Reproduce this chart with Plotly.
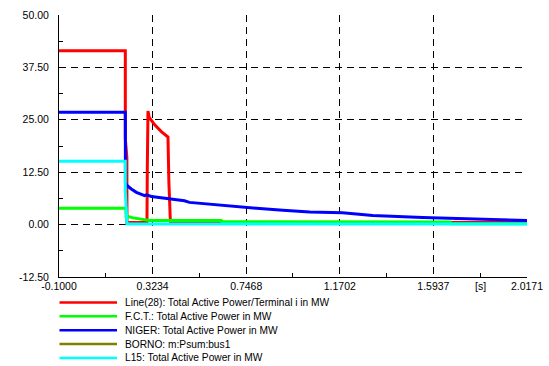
import plotly.graph_objects as go

# ---------------- data ----------------
series_names = [
    "Line(28): Total Active Power/Terminal i in MW",
    "F.C.T.: Total Active Power in MW",
    "NIGER: Total Active Power in MW",
    "BORNO: m:Psum:bus1",
    "L15: Total Active Power in MW",
]
series_colors = ["#ff0000", "#00ff00", "#0000ff", "#808000", "#00ffff"]

line28_t = [-0.1, 0.2, 0.2, 0.207, 0.2075, 0.298, 0.2995, 0.3025, 0.308, 0.333, 0.363, 0.393, 0.397, 0.404, 2.0171]
line28_p = [41.5, 41.5, 20.5, 16.0, 0.5, 0.5, 13.5, 27.1, 25.6, 23.8, 22.2, 20.9, 10.3, 0.5, 0.5]

fct_t = [-0.1, 0.2025, 0.2035, 0.209, 0.235, 0.273, 0.31, 0.634, 0.636, 1.669, 1.671, 2.0171]
fct_p = [3.9, 3.9, 2.0, 2.0, 1.6, 1.35, 1.0, 0.95, 0.7, 0.65, 0.2, 0.2]

niger_t = [-0.1, 0.2, 0.2005, 0.209, 0.227, 0.250, 0.2875, 0.295, 0.318, 0.363, 0.408, 0.4675,
           0.490, 0.589, 0.680, 0.793, 0.913, 1.034, 1.183, 1.319, 1.545, 1.771, 1.880, 2.0171]
niger_p = [26.8, 26.8, 9.9, 9.3, 8.5, 7.7, 6.9, 7.1, 6.7, 6.35, 6.1, 5.7,
           5.3, 4.9, 4.4, 3.9, 3.4, 3.0, 2.8, 2.2, 1.7, 1.36, 1.1, 0.95]

borno_t = [None]
borno_p = [None]

l15_t = [-0.1, 0.2, 0.2, 0.2075, 2.0171]
l15_p = [15.1, 15.1, 7.9, 0.17, 0.17]

x_tick_vals = [-0.1, 0.3234, 0.7468, 1.1702, 1.5937, 2.0171]
x_tick_text = ["-0.1000", "0.3234", "0.7468", "1.1702", "1.5937", "2.0171"]
y_tick_vals = [-12.5, 0.0, 12.5, 25.0, 37.5, 50.0]
y_tick_text = ["-12.50", "0.00", "12.50", "25.00", "37.50", "50.00"]
x_unit = "[s]"

# --------------- figure ---------------
W, H = 549, 366
L, R, T, B = 59, 527, 15, 277

fig = go.Figure()
data = [(line28_t, line28_p), (fct_t, fct_p), (niger_t, niger_p), (borno_t, borno_p), (l15_t, l15_p)]
for (t, p), name, col in zip(data, series_names, series_colors):
    fig.add_trace(go.Scatter(x=t, y=p, mode="lines", name=name,
                             line=dict(color=col, width=3), showlegend=False))

x_minor = [(a + b) / 2 for a, b in zip(x_tick_vals[:-1], x_tick_vals[1:])]
y_minor = [(a + b) / 2 for a, b in zip(y_tick_vals[:-1], y_tick_vals[1:])]

font = dict(family="Liberation Sans, Arial, sans-serif", size=10.2, color="#000000")

fig.update_layout(
    width=W, height=H,
    margin=dict(l=L, r=W - R, t=T, b=H - B, pad=0, autoexpand=False),
    paper_bgcolor="white", plot_bgcolor="white",
    font=font,
    showlegend=False,
    xaxis=dict(range=[x_tick_vals[0], x_tick_vals[-1]], tickvals=x_tick_vals, ticktext=x_tick_text,
               showgrid=True, gridcolor="#000000", gridwidth=1, griddash="7px,5px",
               zeroline=False, showline=True, linecolor="#000000", linewidth=1,
               ticks="", tickfont=dict(size=10.5), automargin=False, ticklabelstandoff=-1,
               minor=dict(tickvals=x_minor, ticks="inside", ticklen=4, tickcolor="#000000", showgrid=False)),
    yaxis=dict(range=[y_tick_vals[0], y_tick_vals[-1]], tickvals=y_tick_vals, ticktext=y_tick_text,
               showgrid=True, gridcolor="#000000", gridwidth=1, griddash="7px,5px",
               zeroline=False, showline=True, linecolor="#000000", linewidth=1,
               ticks="", tickfont=dict(size=10.5), automargin=False, ticklabelstandoff=7,
               minor=dict(tickvals=y_minor, ticks="inside", ticklen=4, tickcolor="#000000", showgrid=False)),
)

def px_x(px):
    return (px - L) / (R - L)

def px_y(py):
    return (B - py) / (B - T)

# unit label
fig.add_annotation(x=x_minor[-1], xref="x", y=px_y(285.5), yref="paper", text=x_unit,
                   showarrow=False, font=dict(size=10.5), xanchor="center", yanchor="middle")

# legend drawn below the plot
for i, (name, col) in enumerate(zip(series_names, series_colors)):
    yy = px_y(302.5 + i * 13.85)
    fig.add_shape(type="line", xref="paper", yref="paper", x0=px_x(59.5), x1=px_x(117),
                  y0=yy, y1=yy, line=dict(color=col, width=2.5))
    fig.add_annotation(x=px_x(123), y=yy, xref="paper", yref="paper", text=name,
                       showarrow=False, xanchor="left", yanchor="middle", font=dict(size=10.2))

fig.write_html("out.html", config={"displayModeBar": False},
               post_script="document.body.style.margin='0';document.body.style.overflow='hidden';")
